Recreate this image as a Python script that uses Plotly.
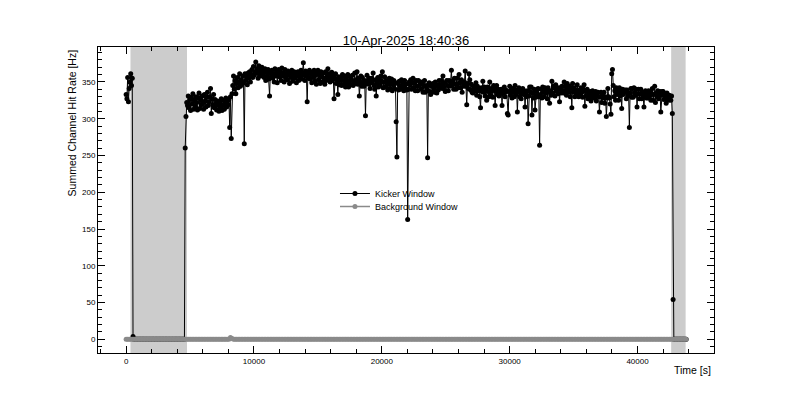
import plotly.graph_objects as go

TITLE = "10-Apr-2025 18:40:36"
X_TITLE = "Time [s]"
Y_TITLE = "Summed Channel Hit Rate [Hz]"
SERIES_NAMES = ["Kicker Window", "Background Window"]
KICKER_STEP_S = 60
BACKGROUND_STEP_S = 120

# Kicker-window summed hit rate [Hz], one value per 60 s sample, 10 samples per row
kicker_rate = [
    333, 327, 356, 323, 341, 350, 361, 345, 355, 4,
    0, 0, 0, 0, 0, 0, 0, 0, 0, 0,
    0, 0, 0, 0, 0, 0, 0, 0, 0, 0,
    0, 0, 0, 0, 0, 0, 0, 0, 0, 0,
    0, 0, 0, 0, 0, 0, 0, 0, 0, 0,
    0, 0, 0, 0, 0, 0, 0, 0, 0, 0,
    0, 0, 0, 0, 0, 0, 0, 0, 0, 0,
    0, 0, 0, 0, 0, 0, 0, 260, 303, 322,
    318, 331, 315, 326, 311, 329, 320, 334, 313, 325,
    317, 330, 322, 312, 328, 335, 314, 326, 319, 331,
    321, 313, 333, 324, 316, 329, 336, 318, 323, 330,
    341, 307, 327, 319, 333, 315, 326, 320, 312, 324,
    318, 310, 322, 315, 327, 311, 319, 325, 313, 321,
    328, 316, 324, 319, 326, 288, 330, 273, 334, 345,
    358, 340, 352, 334, 348, 356, 342, 350, 361, 344,
    353, 347, 358, 349, 266, 361, 352, 357, 346, 362,
    355, 364, 350, 360, 367, 356, 371, 359, 364, 377,
    362, 368, 355, 372, 360, 366, 358, 370, 361, 365,
    356, 368, 352, 363, 358, 367, 354, 331, 362, 357,
    366, 355, 361, 350, 368, 358, 363, 349, 360, 367,
    357, 364, 352, 369, 358, 362, 350, 367, 356, 361,
    353, 365, 359, 348, 362, 356, 366, 351, 360, 364,
    355, 362, 349, 358, 364, 352, 361, 357, 366, 354,
    362, 376, 359, 352, 365, 358, 323, 361, 355, 366,
    354, 361, 349, 363, 356, 366, 351, 359, 347, 362,
    366, 353, 360, 348, 364, 357, 350, 362, 355, 347,
    364, 352, 358, 368, 355, 361, 350, 357, 363, 352,
    358, 327, 355, 361, 348, 353, 333, 357, 346, 352,
    356, 345, 360, 352, 347, 358, 343, 354, 349, 360,
    343, 351, 357, 346, 353, 359, 345, 350, 362, 348,
    353, 364, 347, 355, 331, 350, 358, 344, 356, 349,
    344, 352, 304, 348, 359, 351, 347, 355, 341, 350,
    355, 349, 362, 345, 340, 353, 331, 348, 356, 343,
    353, 346, 358, 351, 364, 342, 350, 357, 343, 349,
    352, 339, 347, 355, 341, 350, 354, 338, 346, 352,
    341, 349, 296, 248, 348, 339, 351, 345, 340, 353,
    344, 350, 338, 352, 341, 347, 339, 163, 340, 350,
    346, 353, 340, 349, 355, 342, 349, 338, 352, 344,
    338, 352, 345, 350, 340, 348, 350, 336, 344, 352,
    336, 345, 340, 247, 338, 349, 345, 333, 336, 344,
    348, 341, 336, 350, 344, 335, 346, 339, 352, 343,
    346, 352, 341, 358, 343, 349, 337, 338, 352, 345,
    338, 352, 344, 350, 366, 345, 351, 340, 355, 347,
    340, 355, 347, 342, 360, 349, 342, 353, 336, 350,
    344, 350, 365, 344, 319, 348, 341, 361, 353, 339,
    347, 336, 335, 344, 340, 338, 349, 332, 344, 338,
    341, 330, 315, 342, 337, 351, 336, 343, 331, 340,
    325, 343, 337, 330, 350, 332, 341, 338, 329, 345,
    341, 318, 338, 345, 333, 340, 331, 339, 335, 340,
    318, 340, 335, 343, 330, 339, 337, 307, 305, 337,
    344, 332, 339, 328, 341, 336, 330, 345, 333, 339,
    309, 336, 342, 330, 338, 327, 335, 341, 333, 338,
    316, 334, 330, 338, 293, 331, 343, 336, 343, 305,
    335, 328, 340, 312, 329, 337, 333, 341, 330, 264,
    333, 340, 328, 343, 336, 330, 342, 335, 339, 327,
    342, 336, 321, 338, 332, 351, 335, 344, 342, 331,
    346, 338, 340, 334, 342, 323, 340, 335, 344, 338,
    335, 350, 338, 344, 332, 348, 341, 336, 344, 330,
    341, 315, 348, 336, 342, 330, 339, 333, 346, 336,
    330, 339, 333, 342, 336, 329, 340, 346, 317, 338,
    331, 340, 327, 335, 329, 337, 324, 332, 338, 328,
    335, 329, 337, 324, 332, 336, 330, 309, 330, 336,
    322, 334, 328, 336, 321, 330, 303, 328, 341, 330,
    328, 320, 306, 361, 367, 345, 330, 338, 325, 342,
    333, 338, 325, 342, 331, 336, 314, 340, 333, 339,
    336, 339, 327, 339, 331, 335, 288, 335, 341, 329,
    341, 329, 342, 335, 332, 340, 316, 334, 340, 327,
    334, 340, 327, 336, 330, 316, 333, 338, 328, 335,
    328, 338, 330, 337, 325, 333, 341, 325, 333, 344,
    322, 335, 330, 338, 327, 332, 337, 309, 332, 337,
    337, 326, 334, 328, 321, 335, 330, 325, 332, 330,
    325, 331, 307, 54, 0, 0, 0, 0, 0, 0,
    0, 0, 0, 0, 0, 0, 0, 0, 0, 0,
    0,
]

# Background-window summed hit rate [Hz], one value per 120 s sample
# (flat at ~0, small bump near 8.2 ks)
background_rate = [
    0, 0, 0, 0, 0, 0, 0, 0, 0, 0, 0, 0, 0, 0, 0, 0, 0, 0, 0, 0,
    0, 0, 0, 0, 0, 0, 0, 0, 0, 0, 0, 0, 0, 0, 0, 0, 0, 0, 0, 0,
    0, 0, 0, 0, 0, 0, 0, 0, 0, 0, 0, 0, 0, 0, 0, 0, 0, 0, 0, 0,
    0, 0, 0, 0, 0, 0, 0, 0, 2.5, 1, 0, 0, 0, 0, 0, 0, 0, 0, 0, 0,
    0, 0, 0, 0, 0, 0, 0, 0, 0, 0, 0, 0, 0, 0, 0, 0, 0, 0, 0, 0,
    0, 0, 0, 0, 0, 0, 0, 0, 0, 0, 0, 0, 0, 0, 0, 0, 0, 0, 0, 0,
    0, 0, 0, 0, 0, 0, 0, 0, 0, 0, 0, 0, 0, 0, 0, 0, 0, 0, 0, 0,
    0, 0, 0, 0, 0, 0, 0, 0, 0, 0, 0, 0, 0, 0, 0, 0, 0, 0, 0, 0,
    0, 0, 0, 0, 0, 0, 0, 0, 0, 0, 0, 0, 0, 0, 0, 0, 0, 0, 0, 0,
    0, 0, 0, 0, 0, 0, 0, 0, 0, 0, 0, 0, 0, 0, 0, 0, 0, 0, 0, 0,
    0, 0, 0, 0, 0, 0, 0, 0, 0, 0, 0, 0, 0, 0, 0, 0, 0, 0, 0, 0,
    0, 0, 0, 0, 0, 0, 0, 0, 0, 0, 0, 0, 0, 0, 0, 0, 0, 0, 0, 0,
    0, 0, 0, 0, 0, 0, 0, 0, 0, 0, 0, 0, 0, 0, 0, 0, 0, 0, 0, 0,
    0, 0, 0, 0, 0, 0, 0, 0, 0, 0, 0, 0, 0, 0, 0, 0, 0, 0, 0, 0,
    0, 0, 0, 0, 0, 0, 0, 0, 0, 0, 0, 0, 0, 0, 0, 0, 0, 0, 0, 0,
    0, 0, 0, 0, 0, 0, 0, 0, 0, 0, 0, 0, 0, 0, 0, 0, 0, 0, 0, 0,
    0, 0, 0, 0, 0, 0, 0, 0, 0, 0, 0, 0, 0, 0, 0, 0, 0, 0, 0, 0,
    0, 0, 0, 0, 0, 0, 0, 0, 0, 0, 0, 0, 0, 0, 0, 0, 0, 0, 0, 0,
    0, 0, 0, 0, 0, 0,
]

# Shaded (excluded) time windows [s]
shaded_windows = [(340, 4760), (42630, 43760)]

x_tick_vals = [0, 10000, 20000, 30000, 40000]
y_tick_vals = [0, 50, 100, 150, 200, 250, 300, 350]

time_kicker = [i * KICKER_STEP_S for i in range(len(kicker_rate))]
time_background = [i * BACKGROUND_STEP_S for i in range(len(background_rate))]

FONT = "Liberation Sans, Arial, Helvetica, sans-serif"

fig = go.Figure()
fig.add_trace(go.Scatter(
    x=time_kicker, y=kicker_rate, name=SERIES_NAMES[0], mode="lines+markers",
    line=dict(color="black", width=1),
    marker=dict(color="black", size=5, line=dict(width=0)),
    legend="legend",
))
fig.add_trace(go.Scatter(
    x=time_background, y=background_rate, name=SERIES_NAMES[1], mode="lines+markers",
    line=dict(color="#8a8a8a", width=1.5),
    marker=dict(color="#8a8a8a", size=5, line=dict(width=0)),
    legend="legend2",
))

for x0, x1 in shaded_windows:
    fig.add_shape(type="rect", xref="x", yref="paper", x0=x0, x1=x1, y0=0, y1=1,
                  fillcolor="#cccccc", line=dict(width=0), layer="below")

axis_common = dict(
    showline=True, linecolor="black", linewidth=1, mirror="ticks",
    ticks="inside", ticklen=7, tickwidth=1, tickcolor="black",
    showgrid=False, zeroline=False,
    tickfont=dict(family=FONT, size=8, color="black"),
)

fig.update_xaxes(range=[-2200, 45980], tickvals=x_tick_vals,
                 ticktext=[str(v) for v in x_tick_vals],
                 minor=dict(dtick=2000, tick0=0, ticks="inside", ticklen=4,
                            tickcolor="black", tickwidth=1),
                 **axis_common)
fig.update_yaxes(range=[-18.6, 397.5], tickvals=y_tick_vals,
                 ticktext=[str(v) for v in y_tick_vals],
                 minor=dict(dtick=10, tick0=0, ticks="inside", ticklen=4,
                            tickcolor="black", tickwidth=1),
                 **axis_common)

legend_common = dict(xanchor="left", yanchor="top", bgcolor="rgba(0,0,0,0)",
                     borderwidth=0, font=dict(family=FONT, size=9, color="black"),
                     itemwidth=30)

fig.update_layout(
    width=793, height=397,
    margin=dict(l=98, r=79, t=47, b=44),
    plot_bgcolor="white", paper_bgcolor="white",
    font=dict(family=FONT, color="black"),
    title=dict(text=TITLE, x=0.5, xref="paper", y=1 - 40 / 397, yref="container",
               xanchor="center", yanchor="middle",
               font=dict(family=FONT, size=13, color="black")),
    showlegend=True,
    legend=dict(x=0.3847, y=(353 - 179) / 306, **legend_common),
    legend2=dict(x=0.3847, y=(353 - 192) / 306, **legend_common),
    annotations=[
        dict(text=Y_TITLE, xref="paper", yref="paper", x=(72 - 98) / 616, y=0.997,
             xanchor="center", yanchor="top", textangle=-90, showarrow=False,
             font=dict(family=FONT, size=10.5, color="black")),
        dict(text=X_TITLE, xref="paper", yref="paper", x=(713 - 98) / 616,
             y=(353 - 370) / 306, xanchor="right", yanchor="middle", showarrow=False,
             font=dict(family=FONT, size=10.5, color="black")),
    ],
)

fig.write_html(
    "out.html",
    config={"displayModeBar": False},
    post_script="document.body.style.margin='0';document.body.style.overflow='hidden';",
)
